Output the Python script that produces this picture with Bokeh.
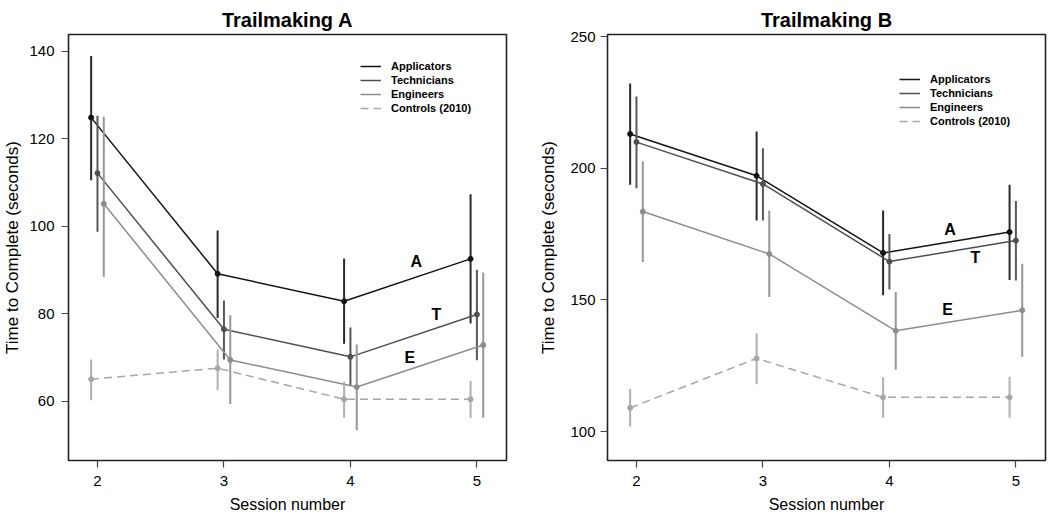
import numpy as np
from bokeh.plotting import figure
from bokeh.layouts import row
from bokeh.models import ColumnDataSource, FixedTicker, Legend, LegendItem
from bokeh.transform import dodge
from bokeh.core.properties import value
from bokeh.embed import file_html
from bokeh.resources import INLINE

FONT = "Liberation Sans"

sessions = [2, 3, 4, 5]
groups = ["Applicators", "Technicians", "Engineers", "Controls (2010)"]
letters = ["A", "T", "E"]

# Trailmaking A (seconds): means, lower and upper error-bar ends
a_app = [124.8, 89.1, 82.8, 92.5]
a_app_lo = [110.5, 79.0, 73.1, 77.7]
a_app_hi = [138.9, 99.0, 92.6, 107.3]
a_tech = [112.1, 76.4, 70.1, 79.8]
a_tech_lo = [98.7, 69.5, 63.5, 69.3]
a_tech_hi = [125.2, 83.0, 76.8, 90.0]
a_eng = [105.1, 69.4, 63.2, 72.8]
a_eng_lo = [88.4, 59.3, 53.3, 56.2]
a_eng_hi = [125.0, 79.6, 72.9, 89.4]
a_ctrl = [65.0, 67.5, 60.4, 60.4]
a_ctrl_lo = [60.2, 62.5, 56.2, 56.1]
a_ctrl_hi = [69.5, 71.8, 64.4, 64.6]

# Trailmaking B (seconds)
b_app = [213.1, 197.2, 167.9, 175.8]
b_app_lo = [193.8, 180.2, 151.8, 157.6]
b_app_hi = [232.3, 214.0, 184.0, 193.8]
b_tech = [210.0, 194.1, 164.6, 172.6]
b_tech_lo = [192.5, 180.2, 154.0, 157.4]
b_tech_hi = [227.3, 207.7, 175.1, 187.6]
b_eng = [183.6, 167.5, 138.3, 146.1]
b_eng_lo = [164.4, 151.1, 123.5, 128.4]
b_eng_hi = [202.7, 184.0, 153.0, 163.8]
b_ctrl = [109.0, 127.8, 113.0, 113.0]
b_ctrl_lo = [101.9, 118.0, 105.2, 105.2]
b_ctrl_hi = [116.2, 137.4, 120.6, 120.8]

a_yticks = [60, 80, 100, 120, 140]
b_yticks = [100, 150, 200, 250]

line_colors = ["#141414", "#4f4f4f", "#8c8c8c", "#a6a6a6"]
bar_colors = ["#2a2a2a", "#585858", "#979797", "#b0b0b0"]
shifts = [-0.05, 0.0, 0.05, -0.05]
dashes = ["solid", "solid", "solid", "8 5"]


def make_panel(title, series, y_range, yticks, label_spec, border_left, border_right,
               legend_xy, ylabel_standoff, ytick_standoff):
    p = figure(width=525, height=515, x_range=(1.771, 5.234), y_range=y_range,
               output_backend="svg", toolbar_location=None,
               min_border_left=border_left, min_border_right=border_right,
               min_border_top=34, min_border_bottom=53)
    p.grid.visible = False
    p.outline_line_color = "#222222"
    p.outline_line_width = 1.6
    p.background_fill_color = "white"
    p.border_fill_color = "white"

    p.title.text = title
    p.title.align = "center"
    p.title.text_font = FONT
    p.title.text_font_size = "20px"
    p.title.text_font_style = "bold"
    p.title.text_color = "black"
    p.title.standoff = 8

    p.xaxis.ticker = FixedTicker(ticks=sessions)
    p.yaxis.ticker = FixedTicker(ticks=yticks)
    for ax in (p.xaxis, p.yaxis):
        ax.axis_line_color = None
        ax.major_tick_in = 0
        ax.major_tick_out = 7
        ax.major_tick_line_color = "#444444"
        ax.major_tick_line_width = 1.2
        ax.minor_tick_line_color = None
        ax.major_label_text_font = FONT
        ax.major_label_text_font_size = "15px"
        ax.major_label_text_color = "black"
        ax.axis_label_text_font = FONT
        ax.axis_label_text_font_style = "normal"
        ax.axis_label_text_color = "black"
    p.xaxis.axis_label_text_font_size = "16px"
    p.yaxis.axis_label_text_font_size = "17px"
    p.yaxis.major_label_orientation = "horizontal"
    p.yaxis.major_label_standoff = ytick_standoff
    p.yaxis.axis_label_standoff = ylabel_standoff
    p.xaxis.major_label_standoff = 8
    p.xaxis.axis_label_standoff = 7
    p.xaxis.axis_label = "Session number"
    p.yaxis.axis_label = "Time to Complete (seconds)"

    line_renderers = []
    for i, (mean, lo, hi) in enumerate(series):
        src = ColumnDataSource(dict(x=sessions, y=mean, lo=lo, hi=hi))
        xd = dodge("x", shifts[i], range=p.x_range)
        p.segment(x0=xd, y0="lo", x1=xd, y1="hi", source=src,
                  line_color=bar_colors[i], line_width=2)
        r = p.line(x=xd, y="y", source=src, line_color=line_colors[i],
                   line_width=1.5, line_dash=dashes[i])
        p.scatter(x=xd, y="y", source=src, size=5, fill_color=line_colors[i],
                  line_color=line_colors[i])
        line_renderers.append(r)

    # curve letters, placed on the 4-5 segment of each curve
    lx, ly, loff = [], [], []
    for i, (xpos, off) in enumerate(label_spec):
        xs = np.array(sessions) + shifts[i]
        lx.append(xpos)
        ly.append(float(np.interp(xpos, xs, series[i][0])))
        loff.append(off)
    lsrc = ColumnDataSource(dict(x=lx, y=ly, t=letters, off=loff))
    p.text(x="x", y="y", text="t", y_offset="off", source=lsrc,
           text_font=value(FONT), text_font_style="bold", text_font_size="16px",
           text_align="center", text_baseline="middle", text_color="black")

    legend = Legend(items=[LegendItem(label=g, renderers=[r])
                           for g, r in zip(groups, line_renderers)],
                    location=legend_xy, padding=0, margin=0, spacing=0,
                    label_height=14, glyph_height=14, glyph_width=21,
                    label_standoff=10, background_fill_alpha=0,
                    border_line_alpha=0, label_text_font=FONT,
                    label_text_font_style="bold", label_text_font_size="11px",
                    label_text_color="black")
    p.add_layout(legend)
    return p


pa = make_panel("Trailmaking A",
                [(a_app, a_app_lo, a_app_hi), (a_tech, a_tech_lo, a_tech_hi),
                 (a_eng, a_eng_lo, a_eng_hi), (a_ctrl, a_ctrl_lo, a_ctrl_hi)],
                (46.4, 143.8), a_yticks,
                [(4.52, -16), (4.68, -13), (4.47, -12)],
                67, 19, (292, 345), 4, 7)

pb = make_panel("Trailmaking B",
                [(b_app, b_app_lo, b_app_hi), (b_tech, b_tech_lo, b_tech_hi),
                 (b_eng, b_eng_lo, b_eng_hi), (b_ctrl, b_ctrl_lo, b_ctrl_hi)],
                (89.0, 250.9), b_yticks,
                [(4.48, -12), (4.68, 10), (4.46, -13)],
                82, 5, (292, 332), 9, 5)

layout = row(pa, pb, spacing=0)

open("out.html", "w").write(file_html(layout, INLINE))
